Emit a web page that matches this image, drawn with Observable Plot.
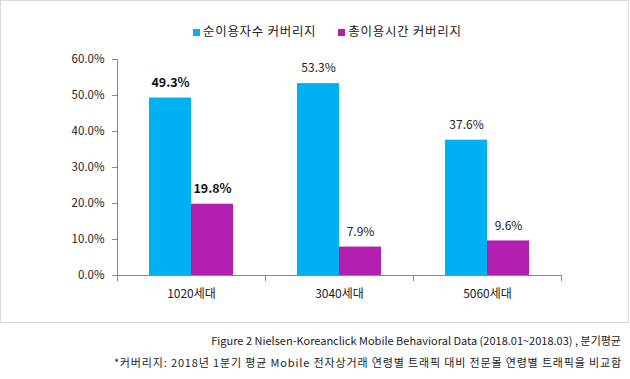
<!DOCTYPE html>
<html><head><meta charset="utf-8">
<script src="https://cdn.jsdelivr.net/npm/d3@7"></script>
<script src="https://cdn.jsdelivr.net/npm/@observablehq/plot@0.6"></script>
<style>
body{margin:0;background:#fff;font-family:"Noto Sans CJK KR","Noto Sans",sans-serif;}
#box{position:absolute;left:0;top:0;width:627px;height:321px;border:1px solid #d9d9d9;}
#legend{position:absolute;left:192px;top:20px;font-size:12.5px;letter-spacing:0.7px;color:#222;white-space:nowrap;}
#legend span.sw{display:inline-block;width:7px;height:7px;margin-right:3px;vertical-align:0px;}
#legend .it{display:inline-block;}
.cap{position:absolute;right:9px;font-size:11px;color:#222;white-space:nowrap;}
</style></head>
<body>
<div id="box"><div id="chart"></div><div id="legend"></div></div>
<div class="cap" id="cap1" style="top:332px"></div>
<div class="cap" id="cap2" style="top:354px;letter-spacing:0.85px;right:8px"></div>
<script>
const categories = ["1020세대", "3040세대", "5060세대"];
const seriesNames = ["순이용자수 커버리지", "총이용시간 커버리지"];
const uniqueUsers = [0.493, 0.533, 0.376];
const totalTime = [0.198, 0.079, 0.096];
const boldCategories = ["1020세대"];
const yTicks = [0, 0.1, 0.2, 0.3, 0.4, 0.5, 0.6];
const colors = ["#00B0F0", "#B01FAE"];
const caption1 = "Figure 2 Nielsen-Koreanclick Mobile Behavioral Data (2018.01~2018.03) , 분기평균";
const caption2 = "*커버리지: 2018년 1분기 평균 Mobile 전자상거래 연령별 트래픽 대비 전문몰 연령별 트래픽을 비교함";

const data = [];
categories.forEach((c, i) => {
  data.push({cat: c, series: seriesNames[0], value: uniqueUsers[i]});
  data.push({cat: c, series: seriesNames[1], value: totalTime[i]});
});

const axisColor = "#888";
const textColor = "#222";

const plot = Plot.plot({
  width: 627,
  height: 321,
  marginLeft: 116,
  marginRight: 67,
  marginTop: 58,
  marginBottom: 47,
  style: {fontFamily: '"Noto Sans CJK KR","Noto Sans",sans-serif', fontSize: "11.5px", color: textColor, background: "#fff"},
  fx: {domain: categories, padding: 0, label: null},
  x: {domain: seriesNames, paddingInner: 0, paddingOuter: 0.74, axis: null},
  y: {domain: [0, 0.6], label: null},
  color: {domain: seriesNames, range: colors},
  marks: [
    Plot.barY(data, {fx: "cat", x: "series", y: "value", fill: "series"}),
    Plot.ruleY([0], {stroke: axisColor}),
    Plot.frame({anchor: "left", facet: "super", stroke: axisColor, insetBottom: -5}),
    Plot.frame({anchor: "left", stroke: axisColor, insetTop: 216, insetBottom: -5}),
    Plot.frame({anchor: "right", stroke: axisColor, insetTop: 216, insetBottom: -5}),
    Plot.axisY({ticks: yTicks, tickFormat: d3.format(".1%"), tickSize: 5, tickPadding: 8, stroke: axisColor, fill: textColor, fontSize: 11.5, label: null}),
    Plot.axisFx({anchor: "bottom", tickSize: 0, tickPadding: 14, fontSize: 12, fill: textColor, label: null}),
    Plot.text(data.filter(d => !boldCategories.includes(d.cat)), {fx: "cat", x: "series", y: "value", text: d => d3.format(".1%")(d.value), dy: -15, fill: textColor, fontSize: 12}),
    Plot.text(data.filter(d => boldCategories.includes(d.cat)), {fx: "cat", x: "series", y: "value", text: d => d3.format(".1%")(d.value), dy: -15, fill: "#111", fontSize: 12.5, fontWeight: "bold"})
  ]
});
document.getElementById("chart").appendChild(plot);

const lg = document.getElementById("legend");
seriesNames.forEach((s, i) => {
  const it = document.createElement("span");
  it.className = "it";
  it.style.marginRight = i === 0 ? "22px" : "0";
  const sw = document.createElement("span");
  sw.className = "sw";
  sw.style.background = colors[i];
  it.appendChild(sw);
  it.appendChild(document.createTextNode(s));
  lg.appendChild(it);
});
document.getElementById("cap1").textContent = caption1;
document.getElementById("cap2").textContent = caption2;
</script>
</body></html>
